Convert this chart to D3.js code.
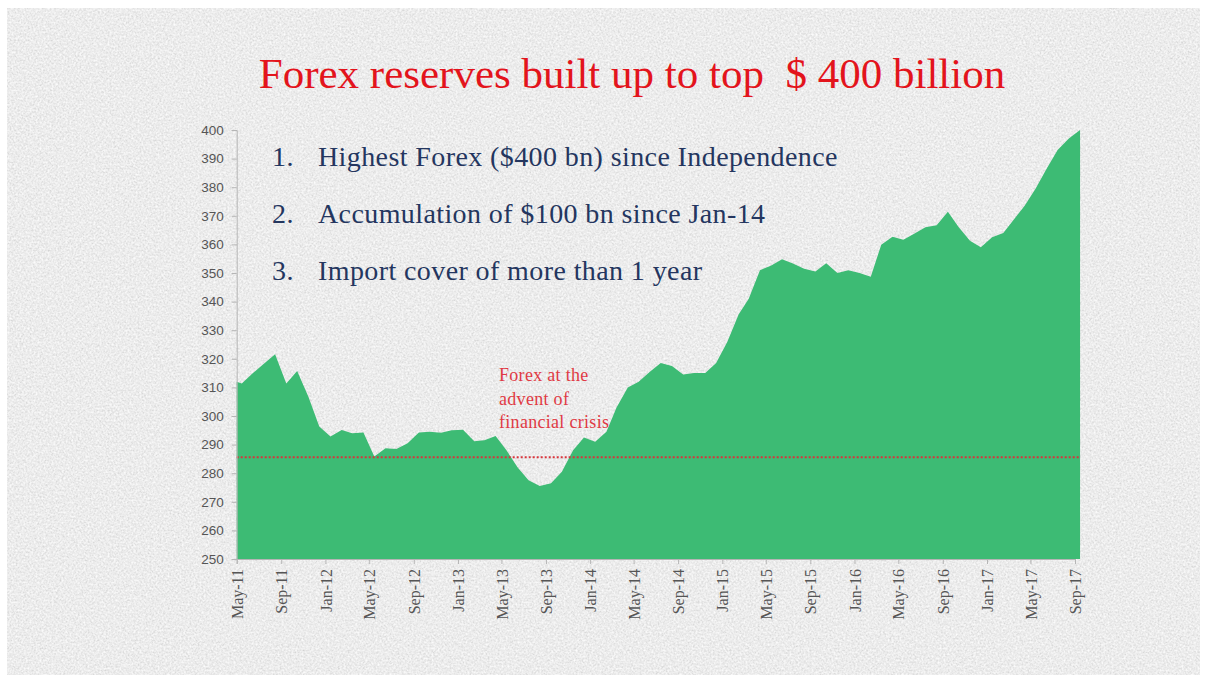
<!DOCTYPE html>
<html>
<head>
<meta charset="utf-8">
<script src="https://cdn.jsdelivr.net/npm/d3@7"></script>
<style>
  html, body { margin: 0; padding: 0; background: #ffffff; }
  svg { display: block; }
</style>
</head>
<body>
<svg id="chart" width="1209" height="682"></svg>
<script>
// Foreign exchange reserves, US$ billion, monthly readings May-2011 .. Sep-2017
const openingValue = 312;   // reading at the start of May 2011
const reserves = [
  311.4, 315.0, 318.3, 321.6, 311.4, 315.7, 306.7, 296.3, 292.8, 295.1, 294.0, 294.2,   // May-11 .. Apr-12
  285.8, 288.7, 288.5, 290.5, 294.2, 294.5, 294.1, 295.0, 295.2, 291.2, 291.5, 293.0,   // May-12 .. Apr-13
  288.0, 282.0, 277.5, 275.5, 276.5, 280.5, 288.0, 292.5, 291.0, 294.5, 303.0, 310.0,   // May-13 .. Apr-14
  312.0, 315.5, 318.5, 317.5, 314.5, 315.0, 315.0, 318.5, 326.0, 335.5, 341.0, 351.0,   // May-14 .. Apr-15
  352.5, 354.8, 353.3, 351.5, 350.5, 353.4, 350.0, 351.0, 350.0, 348.7, 359.9, 362.7,   // May-15 .. Apr-16
  361.6, 363.8, 366.0, 366.7, 371.4, 366.0, 361.3, 359.0, 362.5, 364.0, 368.5, 373.5,   // May-16 .. Apr-17
  379.5, 386.5, 393.0, 397.0, 400.0                                                     // May-17 .. Sep-17
];
const crisisLevel = 285.6;   // reserves at the onset of the 2008 financial crisis

const yTicks = [250, 260, 270, 280, 290, 300, 310, 320, 330, 340, 350, 360, 370, 380, 390, 400];
const xTickLabels = ["May-11", "Sep-11", "Jan-12", "May-12", "Sep-12", "Jan-13", "May-13", "Sep-13",
  "Jan-14", "May-14", "Sep-14", "Jan-15", "May-15", "Sep-15", "Jan-16", "May-16", "Sep-16",
  "Jan-17", "May-17", "Sep-17"];

const titleText = "Forex reserves built up to top  $ 400 billion";
const bullets = [
  ["1.", "Highest Forex ($400 bn) since Independence"],
  ["2.", "Accumulation of $100 bn since Jan-14"],
  ["3.", "Import cover of more than 1 year"]
];
const noteLines = ["Forex at the", "advent of", "financial crisis"];

const svg = d3.select("#chart");
const defs = svg.append("defs");

// paper grain for the slide background
const grain = defs.append("filter").attr("id", "grain")
  .attr("x", 0).attr("y", 0).attr("width", "100%").attr("height", "100%");
grain.append("feTurbulence").attr("type", "fractalNoise")
  .attr("baseFrequency", 0.6).attr("numOctaves", 3).attr("seed", 7).attr("result", "noise");
grain.append("feColorMatrix").attr("type", "matrix").attr("in", "noise")
  .attr("values", "0 0 0 0 0.6  0 0 0 0 0.6  0 0 0 0 0.6  1.5 0 0 0 -0.6");
const light = defs.append("filter").attr("id", "light")
  .attr("x", 0).attr("y", 0).attr("width", "100%").attr("height", "100%");
light.append("feTurbulence").attr("type", "fractalNoise")
  .attr("baseFrequency", 0.5).attr("numOctaves", 2).attr("seed", 21).attr("result", "noise");
light.append("feColorMatrix").attr("type", "matrix").attr("in", "noise")
  .attr("values", "0 0 0 0 1  0 0 0 0 1  0 0 0 0 1  1.9 0 0 0 -0.72");

const slide = { x: 7, y: 8, w: 1193, h: 667 };
svg.append("rect").attr("x", slide.x).attr("y", slide.y)
  .attr("width", slide.w).attr("height", slide.h).attr("fill", "#ebebeb");
svg.append("rect").attr("x", slide.x).attr("y", slide.y)
  .attr("width", slide.w).attr("height", slide.h).attr("filter", "url(#grain)");
svg.append("rect").attr("x", slide.x).attr("y", slide.y)
  .attr("width", slide.w).attr("height", slide.h).attr("filter", "url(#light)");

// title
svg.append("text")
  .attr("x", 632).attr("y", 88)
  .attr("text-anchor", "middle")
  .attr("font-family", "'Liberation Serif', 'DejaVu Serif', serif")
  .attr("font-size", 43)
  .attr("fill", "#e3141c")
  .style("white-space", "pre")
  .text(titleText);

// scales
const months = d3.timeMonth.range(new Date(2011, 4, 1), new Date(2017, 9, 1));
const points = [{ date: new Date(2011, 4, 1), value: openingValue }]
  .concat(months.map((m, i) => ({ date: d3.timeDay.offset(m, 14), value: reserves[i] })));

const x = d3.scaleTime()
  .domain([new Date(2011, 4, 1), new Date(2017, 8, 1)])
  .range([236.7, 1075]);
const y = d3.scaleLinear().domain([250, 400]).range([559, 130]);

// area
const area = d3.area()
  .x(d => x(d.date))
  .y0(y(250))
  .y1(d => y(d.value));
svg.append("path")
  .datum(points)
  .attr("d", area)
  .attr("fill", "#3dbb74");

// reference line for crisis-time reserves
svg.append("line")
  .attr("x1", x(points[0].date)).attr("x2", x(points[points.length - 1].date))
  .attr("y1", y(crisisLevel)).attr("y2", y(crisisLevel))
  .attr("stroke", "#d8343c").attr("stroke-width", 2)
  .attr("stroke-dasharray", "2,2");

// axes
const axisColor = "#b5b5b5";
const labelColor = "#555555";

const yAxis = svg.append("g")
  .attr("transform", `translate(${x.range()[0]},0)`)
  .call(d3.axisLeft(y).tickValues(yTicks).tickSize(5).tickPadding(8).tickFormat(d3.format("d")));
yAxis.select(".domain").attr("stroke", axisColor);
yAxis.selectAll(".tick line").attr("stroke", axisColor);
yAxis.selectAll(".tick text")
  .attr("font-family", "'Liberation Sans', Arial, sans-serif")
  .attr("font-size", 13.5).attr("fill", labelColor);

const tickDates = d3.timeMonth.every(4).range(new Date(2011, 4, 1), new Date(2017, 9, 1));
const xAxis = svg.append("g")
  .attr("transform", `translate(0,${y(250)})`)
  .call(d3.axisBottom(x).tickValues(tickDates).tickSize(5)
    .tickFormat((d, i) => xTickLabels[i]));
xAxis.select(".domain").attr("stroke", axisColor);
xAxis.selectAll(".tick line").attr("stroke", axisColor);
xAxis.selectAll(".tick text")
  .attr("font-family", "'Liberation Serif', 'DejaVu Serif', serif")
  .attr("font-size", 16).attr("fill", labelColor)
  .attr("text-anchor", "end")
  .attr("transform", "rotate(-90)")
  .attr("x", -10).attr("y", 0).attr("dy", "0.35em");

// key points
const bulletGroup = svg.append("g")
  .attr("font-family", "'Liberation Serif', 'DejaVu Serif', serif")
  .attr("font-size", 28).attr("letter-spacing", 0.4).attr("fill", "#24365f");
bullets.forEach((b, i) => {
  bulletGroup.append("text").attr("x", 272).attr("y", 166 + i * 57).text(b[0]);
  bulletGroup.append("text").attr("x", 318).attr("y", 166 + i * 57).text(b[1]);
});

// annotation
const note = svg.append("text")
  .attr("font-family", "'Liberation Serif', 'DejaVu Serif', serif")
  .attr("font-size", 18).attr("letter-spacing", 0.3).attr("fill", "#e03a44");
noteLines.forEach((t, i) => {
  note.append("tspan").attr("x", 499).attr("y", 381 + i * 23.5).text(t);
});
</script>
</body>
</html>
